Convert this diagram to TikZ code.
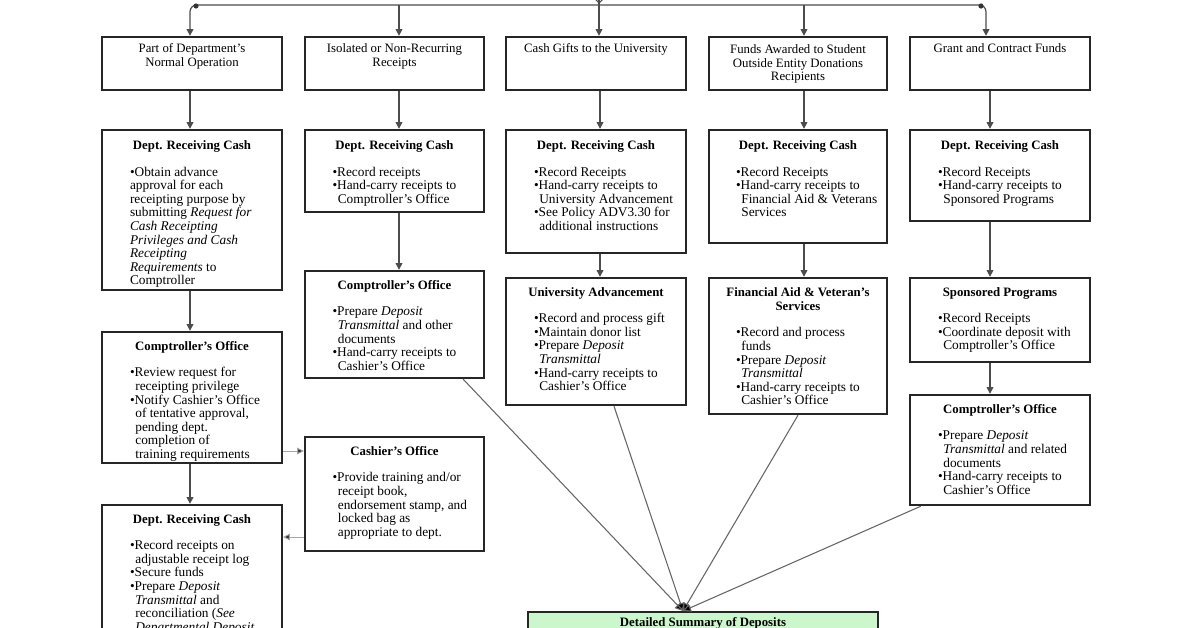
\documentclass[tikz,border=0pt]{standalone}
\usepackage{fontspec}
\setmainfont{Liberation Serif}
\usetikzlibrary{arrows.meta,fit,calc}
\newcommand\bi{•}
\newcommand\ct{\hspace*{4pt}}
\newcommand\btxt[2]{\textbf{#1}\\[9pt]\makebox[93pt][l]{\fontsize{10}{10.2}\selectfont\begin{tabular}[t]{@{}l@{}}#2\end{tabular}}}
\tikzset{
  boxsty/.style={draw=black!85, line width=1.8pt, inner sep=0pt},
  txt/.style={inner sep=0pt, align=center, font=\fontsize{9.6}{10.6}\selectfont, text=black},
  conn/.style={draw=black!70, line width=0.9pt, -{Triangle[length=5pt,width=5pt]}},
  dconn/.style={draw=black!35, line width=0.7pt, -{Triangle[length=5pt,width=5pt,fill=black!80]}},
  sinkln/.style={draw=black!60, line width=0.8pt, -{Triangle[length=6pt,width=6pt,fill=black]}},
}
\begin{document}
\begin{tikzpicture}[x=0.75pt,y=-0.75pt]
\useasboundingbox (0,0) rectangle (1196,628);
\fill[white] (0,0) rectangle (1196,628);

% column coordinates
\coordinate (hub) at (599,5);
\coordinate (colA) at (190,0);
\coordinate (colB) at (399,0);
\coordinate (colC) at (600,0);
\coordinate (colD) at (804,0);
\coordinate (colE) at (990,0);
\coordinate (colEt) at (986,0);
\coordinate (rowAB) at (0,451);
\coordinate (rowBA) at (0,537);
\coordinate (sink) at (683,611);

% Row 1
\node[boxsty, fit={(102,37) (282,90)}] (A1) {};
\node[txt, anchor=north] (A1t) at ([yshift=-5.5pt]A1.north) {Part of Department's\\Normal Operation};
\node[boxsty, fit={(305,37) (484,90)}] (B1) {};
\node[txt, anchor=north] (B1t) at ([yshift=-5.5pt]B1.north) {Isolated or Non-Recurring\\Receipts};
\node[boxsty, fit={(506,37) (686,90)}] (C1) {};
\node[txt, anchor=north] (C1t) at ([yshift=-5.5pt]C1.north) {Cash Gifts to the University};
\node[boxsty, fit={(709,37) (887,90)}] (D1) {};
\node[txt, anchor=north, font=\fontsize{9.6}{10.2}\selectfont] (D1t) at ([yshift=-6.5pt]D1.north) {Funds Awarded to Student\\Outside Entity Donations\\Recipients};
\node[boxsty, fit={(910,37) (1090,90)}] (E1) {};
\node[txt, anchor=north] (E1t) at ([yshift=-5.5pt]E1.north) {Grant and Contract Funds};

% Row 2
\node[boxsty, fit={(102,130) (282,290)}] (A2) {};
\node[txt, anchor=north] (A2t) at ([yshift=-9pt]A2.north) {\btxt{Dept. Receiving Cash}{\bi Obtain advance\\approval for each\\receipting purpose by\\submitting \textit{Request for}\\\textit{Cash Receipting}\\\textit{Privileges and Cash}\\\textit{Receipting}\\\textit{Requirements} to\\Comptroller}};
\node[boxsty, fit={(305,130) (484,212)}] (B2) {};
\node[txt, anchor=north] (B2t) at ([yshift=-9pt]B2.north) {\btxt{Dept. Receiving Cash}{\bi Record receipts\\\bi Hand-carry receipts to\\\ct Comptroller's Office}};
\node[boxsty, fit={(506,130) (686,253)}] (C2) {};
\node[txt, anchor=north] (C2t) at ([yshift=-9pt]C2.north) {\btxt{Dept. Receiving Cash}{\bi Record Receipts\\\bi Hand-carry receipts to\\\ct University Advancement\\\bi See Policy ADV3.30 for\\\ct additional instructions}};
\node[boxsty, fit={(709,130) (887,243)}] (D2) {};
\node[txt, anchor=north] (D2t) at ([yshift=-9pt]D2.north) {\btxt{Dept. Receiving Cash}{\bi Record Receipts\\\bi Hand-carry receipts to\\\ct Financial Aid \& Veterans\\\ct Services}};
\node[boxsty, fit={(910,130) (1090,221)}] (E2) {};
\node[txt, anchor=north] (E2t) at ([yshift=-9pt]E2.north) {\btxt{Dept. Receiving Cash}{\bi Record Receipts\\\bi Hand-carry receipts to\\\ct Sponsored Programs}};

% Row 3
\node[boxsty, fit={(102,332) (282,463)}] (A3) {};
\node[txt, anchor=north] (A3t) at ([yshift=-8pt]A3.north) {\btxt{Comptroller's Office}{\bi Review request for\\\ct receipting privilege\\\bi Notify Cashier's Office\\\ct of tentative approval,\\\ct pending dept.\\\ct completion of\\\ct training requirements}};
\node[boxsty, fit={(305,271) (484,378)}] (B3) {};
\node[txt, anchor=north] (B3t) at ([yshift=-8pt]B3.north) {\btxt{Comptroller's Office}{\bi Prepare \textit{Deposit}\\\ct\textit{Transmittal} and other\\\ct documents\\\bi Hand-carry receipts to\\\ct Cashier's Office}};
\node[boxsty, fit={(506,278) (686,405)}] (C3) {};
\node[txt, anchor=north] (C3t) at ([yshift=-8pt]C3.north) {\btxt{University Advancement}{\bi Record and process gift\\\bi Maintain donor list\\\bi Prepare \textit{Deposit}\\\ct\textit{Transmittal}\\\bi Hand-carry receipts to\\\ct Cashier's Office}};
\node[boxsty, fit={(709,278) (887,414)}] (D3) {};
\node[txt, anchor=north] (D3t) at ([yshift=-8pt]D3.north) {\textbf{Financial Aid \& Veteran's}\\\btxt{Services}{\bi Record and process\\\ct funds\\\bi Prepare \textit{Deposit}\\\ct\textit{Transmittal}\\\bi Hand-carry receipts to\\\ct Cashier's Office}};
\node[boxsty, fit={(910,278) (1090,362)}] (E3) {};
\node[txt, anchor=north] (E3t) at ([yshift=-8pt]E3.north) {\btxt{Sponsored Programs}{\bi Record Receipts\\\bi Coordinate deposit with\\\ct Comptroller's Office}};

% Row 4
\node[boxsty, fit={(305,437) (484,551)}] (B4) {};
\node[txt, anchor=north] (B4t) at ([yshift=-8pt]B4.north) {\btxt{Cashier's Office}{\bi Provide training and/or\\\ct receipt book,\\\ct endorsement stamp, and\\\ct locked bag as\\\ct appropriate to dept.}};
\node[boxsty, fit={(910,395) (1090,505)}] (E4) {};
\node[txt, anchor=north] (E4t) at ([yshift=-8pt]E4.north) {\btxt{Comptroller's Office}{\bi Prepare \textit{Deposit}\\\ct\textit{Transmittal} and related\\\ct documents\\\bi Hand-carry receipts to\\\ct Cashier's Office}};
\node[boxsty, fit={(102,505) (282,700)}] (A4) {};
\node[txt, anchor=north] (A4t) at ([yshift=-8pt]A4.north) {\btxt{Dept. Receiving Cash}{\bi Record receipts on\\\ct adjustable receipt log\\\bi Secure funds\\\bi Prepare \textit{Deposit}\\\ct\textit{Transmittal} and\\\ct reconciliation (\textit{See}\\\ct\textit{Departmental Deposit}}};
\node[boxsty, fill={rgb,255:red,204;green,247;blue,204}, fit={(528,612) (878,680)}] (G) {};
\node[txt, anchor=north] (Gt) at ([yshift=-5pt]G.north) {\textbf{Detailed Summary of Deposits}};

% top distribution
\draw[black!70, line width=0.9pt] (599,-10) -- (hub);
\draw[black!70, line width=0.8pt] (594,-2) -- (599,3) -- (604,-2);
\draw[conn, rounded corners=5pt] (hub) -| (A1.north -| colA);
\draw[conn, rounded corners=5pt] (hub) -| (E1.north -| colEt);
\fill[black!80] (196,6) circle (2.6);
\fill[black!80] (981,6) circle (2.6);
\draw[conn] (colB |- hub) -- (B1.north -| colB);
\draw[conn] (hub) -- (C1.north -| hub);
\draw[conn] (colD |- hub) -- (D1.north -| colD);

% vertical flows
\draw[conn] (A1.south -| colA) -- (A2.north -| colA);
\draw[conn] (B1.south -| colB) -- (B2.north -| colB);
\draw[conn] (C1.south -| colC) -- (C2.north -| colC);
\draw[conn] (D1.south -| colD) -- (D2.north -| colD);
\draw[conn] (E1.south -| colE) -- (E2.north -| colE);
\draw[conn] (A2.south -| colA) -- (A3.north -| colA);
\draw[conn] (B2.south -| colB) -- (B3.north -| colB);
\draw[conn] (C2.south -| colC) -- (C3.north -| colC);
\draw[conn] (D2.south -| colD) -- (D3.north -| colD);
\draw[conn] (E2.south -| colE) -- (E3.north -| colE);
\draw[conn] (E3.south -| colE) -- (E4.north -| colE);
\draw[conn] (A3.south -| colA) -- (A4.north -| colA);

% side links
\draw[dconn] (A3.east |- rowAB) -- (B4.west |- rowAB);
\draw[dconn] (B4.west |- rowBA) -- (A4.east |- rowBA);

% to summary
\draw[sinkln] ($(B3.south east)+(-22,0)$) -- (sink);
\draw[sinkln] ($(C3.south)+(18,0)$) -- (sink);
\draw[sinkln] (D3.south) -- (sink);
\draw[sinkln] ($(E4.south west)+(12,0)$) -- (sink);
\end{tikzpicture}
\end{document}
